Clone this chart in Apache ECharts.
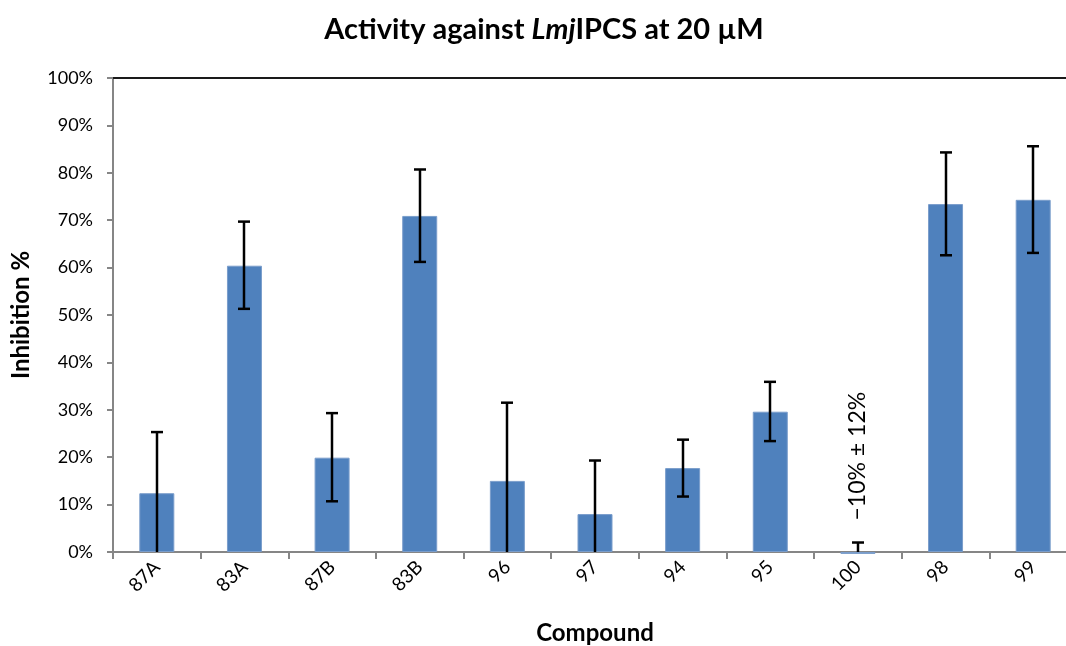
<!DOCTYPE html>
<html>
<head>
<meta charset="utf-8">
<script src="https://cdn.jsdelivr.net/npm/echarts@6/dist/echarts.min.js"></script>
<style>html,body{margin:0;padding:0;background:#fff}#c{width:1066px;height:646px}</style>
</head>
<body>
<div id="c"></div>
<script>
const categories = ['87A','83A','87B','83B','96','97','94','95','100','98','99'];
// bar heights as drawn (compound 100 is -10%, clipped at the 0% baseline)
const inhibition = [12.4, 60.4, 19.9, 70.9, 15.0, 8.0, 17.7, 29.6, -0.4, 73.4, 74.3];
const errUpper = [25.3, 69.7, 29.3, 80.7, 31.5, 19.3, 23.7, 35.9, 2.0, 84.3, 85.6];
const errLower = [0, 51.3, 10.7, 61.2, 0, 0, 11.7, 23.4, 0, 62.6, 63.1];
const noteIndex = 8;
const noteText = '\u221210% \u00b1 12%';
const yTicks = [0,10,20,30,40,50,60,70,80,90,100];

const FONT = 'Lato, "Open Sans", sans-serif';
const chart = echarts.init(document.getElementById('c'), null, {renderer:'canvas'});
const errData = categories.map((c,i)=>[i, errLower[i], errUpper[i]]);

chart.setOption({
  animation:false,
  backgroundColor:'#fff',
  title:{
    text:'{b|Activity against }{i|Lmj}{b|IPCS at 20 \u00b5M}',
    left:539, textAlign:'center', top:10,
    textStyle:{rich:{
      b:{fontFamily:FONT,fontWeight:'bold',fontSize:29,color:'#000'},
      i:{fontFamily:FONT,fontWeight:'bold',fontStyle:'italic',fontSize:29,color:'#000'}
    }}
  },
  grid:{left:113, right:-11, top:78, bottom:94, containLabel:false, outerBoundsMode:'none'},
  xAxis:[{
    type:'category', data:categories,
    axisLine:{lineStyle:{color:'#868686',width:2}},
    axisTick:{show:true,alignWithLabel:false,length:7,lineStyle:{color:'#868686',width:2}},
    axisLabel:{rotate:45,fontFamily:FONT,fontSize:19,color:'#000',margin:12,interval:0},
    name:'Compound', nameLocation:'middle', nameGap:69,
    nameTextStyle:{fontFamily:FONT,fontSize:24,fontWeight:'bold',color:'#000'}
  },{
    type:'category', data:categories, position:'top',
    axisLine:{show:true,lineStyle:{color:'#1a1a1a',width:2}},
    axisTick:{show:false}, axisLabel:{show:false}
  }],
  yAxis:{
    type:'value', min:0, max:100, interval:10,
    axisLine:{show:true,lineStyle:{color:'#868686',width:2}},
    axisTick:{show:true,length:6,lineStyle:{color:'#868686',width:2}},
    splitLine:{show:false},
    axisLabel:{formatter:v=>v+'%',fontFamily:FONT,fontSize:18,color:'#000',margin:20},
    name:'Inhibition %', nameLocation:'middle', nameGap:80, nameRotate:90,
    nameTextStyle:{fontFamily:FONT,fontSize:24,fontWeight:'bold',color:'#000'}
  },
  series:[{
    type:'bar', data:inhibition, barWidth:35, clip:false, z:2,
    itemStyle:{color:'#4F81BD',borderColor:'#7A9DCB',borderWidth:1}
  },{
    type:'custom', data:errData, clip:false, z:5,
    renderItem:(params,api)=>{
      const i=api.value(0);
      const lo=api.coord([i,api.value(1)]);
      const hi=api.coord([i,api.value(2)]);
      const x=Math.round(lo[0]);
      const cap=6;
      const st={stroke:'#000',lineWidth:2.5};
      const children=[
        {type:'line',shape:{x1:x,y1:lo[1],x2:x,y2:hi[1]},style:st},
        {type:'line',shape:{x1:x-cap,y1:hi[1],x2:x+cap,y2:hi[1]},style:st}
      ];
      if(api.value(1)>0){
        children.push({type:'line',shape:{x1:x-cap,y1:lo[1],x2:x+cap,y2:lo[1]},style:st});
      }
      if(i===noteIndex){
        children.push({type:'text',x:x,y:hi[1]-22,rotation:Math.PI/2,
          style:{text:noteText,fontFamily:FONT,fontSize:23,fill:'#000',align:'left',verticalAlign:'middle'}});
      }
      return {type:'group',children};
    }
  }]
});
</script>
</body>
</html>
